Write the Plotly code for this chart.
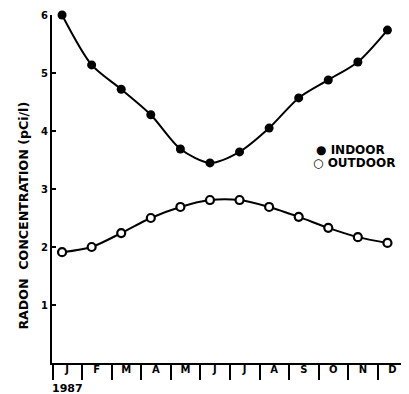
import plotly.graph_objects as go

months = ["J", "F", "M", "A", "M", "J", "J", "A", "S", "O", "N", "D"]
month_idx = list(range(12))
indoor = [6.0, 5.14, 4.72, 4.28, 3.69, 3.45, 3.64, 4.05, 4.57, 4.88, 5.19, 5.74]
outdoor = [1.91, 2.0, 2.24, 2.5, 2.69, 2.81, 2.81, 2.69, 2.52, 2.33, 2.17, 2.07]
y_ticks = [1, 2, 3, 4, 5, 6]
year_label = "1987"

boundaries = [i - 0.32 for i in month_idx] + [11.58]
label_pos = [i + 0.17 for i in month_idx]

fig = go.Figure()
fig.add_trace(go.Scatter(
    x=month_idx, y=indoor, mode="lines+markers", name="INDOOR",
    line=dict(color="black", width=2, shape="spline", smoothing=0.8),
    marker=dict(size=9, color="black"), cliponaxis=False, showlegend=False))
fig.add_trace(go.Scatter(
    x=month_idx, y=outdoor, mode="lines+markers", name="OUTDOOR",
    line=dict(color="black", width=2, shape="spline", smoothing=0.8),
    marker=dict(size=8, color="white", line=dict(color="black", width=2.2)),
    cliponaxis=False, showlegend=False))

font_b = "DejaVu Sans"
# the page body adds an 8px offset, so the figure is 8px smaller
fig.update_layout(
    width=401, height=386,
    margin=dict(l=44, r=5, t=7, b=31),
    paper_bgcolor="white", plot_bgcolor="white",
    showlegend=False,
    xaxis=dict(
        range=[-0.34, 11.56], showgrid=False, zeroline=False,
        showline=True, linecolor="black", linewidth=2,
        tickmode="array", tickvals=label_pos, ticktext=["<b>%s</b>" % m for m in months],
        ticks="", ticklabelstandoff=-4, automargin=False,
        tickfont=dict(family=font_b, size=10, color="black"),
        minor=dict(tickmode="array", tickvals=boundaries, ticks="outside",
                   ticklen=15, tickwidth=2, tickcolor="black"),
    ),
    yaxis=dict(
        range=[0, 6], showgrid=False, zeroline=False,
        showline=True, linecolor="black", linewidth=2, automargin=False,
        tickmode="array", tickvals=y_ticks, ticktext=["<b>%d</b>" % v for v in y_ticks],
        ticks="inside", ticklen=4, tickwidth=2, tickcolor="black",
        tickfont=dict(family=font_b, size=10, color="black"),
    ),
    annotations=[
        dict(xref="paper", yref="paper", x=-0.081, y=0.425, text="<b>RADON  CONCENTRATION (pCi/l)</b>",
             textangle=-90, showarrow=False, xanchor="center", yanchor="middle",
             font=dict(family=font_b, size=12.6, color="black")),
        dict(xref="paper", yref="paper", x=-0.005, y=0, yshift=-17, text="<b>%s</b>" % year_label,
             showarrow=False, xanchor="left", yanchor="top",
             font=dict(family=font_b, size=11, color="black")),
        dict(xref="paper", yref="paper", x=0.745, y=0.612, text="<b>● INDOOR</b>",
             showarrow=False, xanchor="left", yanchor="middle",
             font=dict(family=font_b, size=12, color="black")),
        dict(xref="paper", yref="paper", x=0.736, y=0.576, text="<b>○ OUTDOOR</b>",
             showarrow=False, xanchor="left", yanchor="middle",
             font=dict(family=font_b, size=12, color="black")),
    ],
)

fig.write_html("out.html")
